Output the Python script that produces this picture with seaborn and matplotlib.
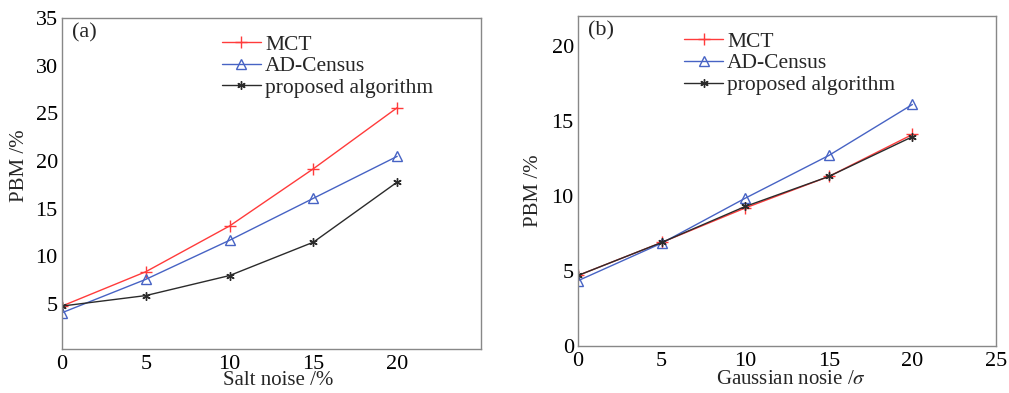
import matplotlib
matplotlib.use("Agg")
import matplotlib.pyplot as plt
import seaborn as sns

# Daten (a): Salzrauschen
salt_noise = [0, 5, 10, 15, 20]
salt_mct = [4.8, 8.4, 13.2, 19.2, 25.6]
salt_adcensus = [4.1, 7.6, 11.7, 16.1, 20.5]
salt_proposed = [4.8, 5.9, 8.0, 11.5, 17.8]

# Daten (b): Gaußsches Rauschen
gauss_noise = [0, 5, 10, 15, 20]
gauss_mct = [4.7, 6.9, 9.2, 11.3, 14.1]
gauss_adcensus = [4.35, 6.85, 9.85, 12.7, 16.1]
gauss_proposed = [4.7, 6.9, 9.3, 11.3, 13.95]

labels = ["MCT", "AD-Census", "proposed algorithm"]
colors = ["#ff3b3b", "#4763c4", "#2b2b2b"]
markers = ["+", "^", (6, 2, 0)]
msizes = [8, 7, 6]

sns.set_theme(style="white")
plt.rcParams["font.family"] = ["Liberation Serif", "DejaVu Serif"]
plt.rcParams["mathtext.fontset"] = "stix"


def draw_panel(ax, x, series, tag, xlabel, xlim, ylim, xticks, yticks, legend_pos,
               xlab_pos, ylab_pos):
    for y, lab, col, mk, ms in zip(series, labels, colors, markers, msizes):
        face = "none" if mk == "^" else col
        sns.lineplot(x=x, y=y, ax=ax, color=col, lw=1.0, marker=mk, markersize=ms,
                     markerfacecolor=face, markeredgecolor=col, markeredgewidth=1.0, label=lab)
    ax.set_xlim(*xlim)
    ax.set_ylim(*ylim)
    ax.set_xticks(xticks)
    ax.set_yticks(yticks)
    ax.tick_params(direction="in", length=3, colors="#888888", labelcolor="black",
                   labelsize=16, pad=3)
    ax.tick_params(axis="x", pad=4)
    for sp in ax.spines.values():
        sp.set_color("#888888")
        sp.set_linewidth(1.0)
    ax.set_xlabel(xlabel, fontsize=15)
    ax.set_ylabel("PBM /%", fontsize=15)
    ax.xaxis.set_label_coords(*xlab_pos)
    ax.yaxis.set_label_coords(*ylab_pos)
    ax.text(0.025, 0.985, tag, transform=ax.transAxes, fontsize=16, va="top", ha="left")
    ax.legend(loc="upper left", bbox_to_anchor=legend_pos, frameon=False, fontsize=15.5,
              handlelength=1.8, handletextpad=0.2, labelspacing=0.07, borderpad=0,
              borderaxespad=0)


fig = plt.figure(figsize=(10.09, 3.93), dpi=100)
ax_a = fig.add_axes([0.0614, 0.112, 0.4153, 0.842])
ax_b = fig.add_axes([0.5728, 0.1196, 0.4143, 0.8397])

draw_panel(ax_a, salt_noise, [salt_mct, salt_adcensus, salt_proposed], "(a)",
           "Salt noise /%", (0, 25), (0.3, 35), [0, 5, 10, 15, 20],
           [5, 10, 15, 20, 25, 30, 35], (0.382, 0.95), (0.515, -0.068), (-0.078, 0.553))
draw_panel(ax_b, gauss_noise, [gauss_mct, gauss_adcensus, gauss_proposed], "(b)",
           r"Gaussian nosie /$\sigma$", (0, 25), (0, 22), [0, 5, 10, 15, 20, 25],
           [0, 5, 10, 15, 20], (0.254, 0.952), (0.51, -0.072), (-0.083, 0.47))

fig.savefig("out.png", dpi=100)
